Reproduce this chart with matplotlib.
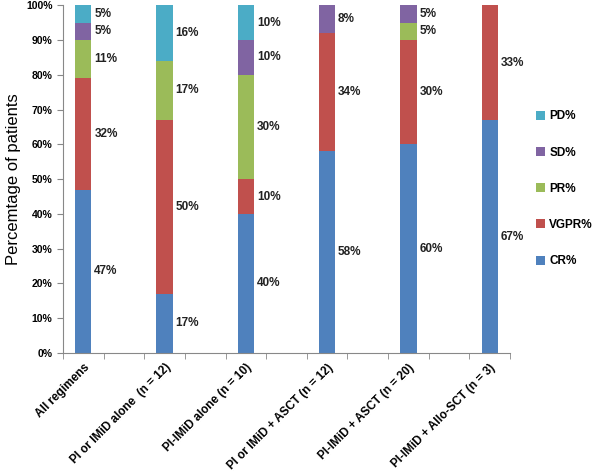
import matplotlib
matplotlib.use("Agg")
import matplotlib.pyplot as plt
import numpy as np

categories = ["All regimens", "PI or IMiD alone  (n = 12)", "PI-IMiD alone (n = 10)",
              "PI or IMiD + ASCT (n = 12)", "PI-IMiD + ASCT (n = 20)", "PI-IMiD + Allo-SCT (n = 3)"]
series_names = ["CR%", "VGPR%", "PR%", "SD%", "PD%"]
CR = [47, 17, 40, 58, 60, 67]
VGPR = [32, 50, 10, 34, 30, 33]
PR = [11, 17, 30, 0, 5, 0]
SD = [5, 0, 10, 8, 5, 0]
PD = [5, 16, 10, 0, 0, 0]
colors = ["#4F81BD", "#C0504D", "#9BBB59", "#8064A2", "#4BACC6"]

plt.rcParams['font.family'] = ['Liberation Sans', 'DejaVu Sans']

fig = plt.figure(figsize=(6, 4.72), dpi=100)
ax = fig.add_axes([0.105, 0.252, 0.745, 0.737])

x = np.arange(len(categories)) * 2 + 0.5
bottom = np.zeros(len(categories))
handles = []
for name, vals, c in zip(series_names, [CR, VGPR, PR, SD, PD], colors):
    vals = np.array(vals, dtype=float)
    h = ax.bar(x, vals, 0.4, bottom=bottom, color=c, label=name)
    handles.append(h)
    for xi, b, v in zip(x, bottom, vals):
        if v > 0:
            ax.text(xi + 0.27, b + v / 2, f"{int(v)}%", ha="left", va="center",
                    fontsize=8.5, fontweight="bold", color="#222222")
    bottom += vals

ax.set_xlim(0, 11)
ax.set_ylim(0, 100)
ax.set_yticks(np.arange(0, 101, 10))
ax.set_yticklabels([f"{v}%" for v in range(0, 101, 10)], fontsize=7.5, fontweight="bold")
ax.set_xticks(x)
ax.set_xticklabels(categories, rotation=45, ha="right", rotation_mode="anchor",
                   fontsize=8.5, fontweight="bold")
ax.tick_params(axis="x", length=0, pad=6)
ax.set_xticks(np.arange(0, 12), minor=True)
ax.tick_params(axis="x", which="minor", length=4, color="#888888")
ax.tick_params(axis="y", length=4, color="#888888")
for s in ["top", "right"]:
    ax.spines[s].set_visible(False)
for s in ["left", "bottom"]:
    ax.spines[s].set_color("#888888")
ax.set_ylabel("Percemtage of patients", fontsize=12)

leg = fig.legend(handles[::-1], series_names[::-1], loc="center left",
                 bbox_to_anchor=(0.875, 0.60), frameon=False, handlelength=0.8,
                 handleheight=0.8, handletextpad=0.35, labelspacing=2.05,
                 prop={"size": 8.5, "weight": "bold"})

fig.savefig("out.png", dpi=100)
